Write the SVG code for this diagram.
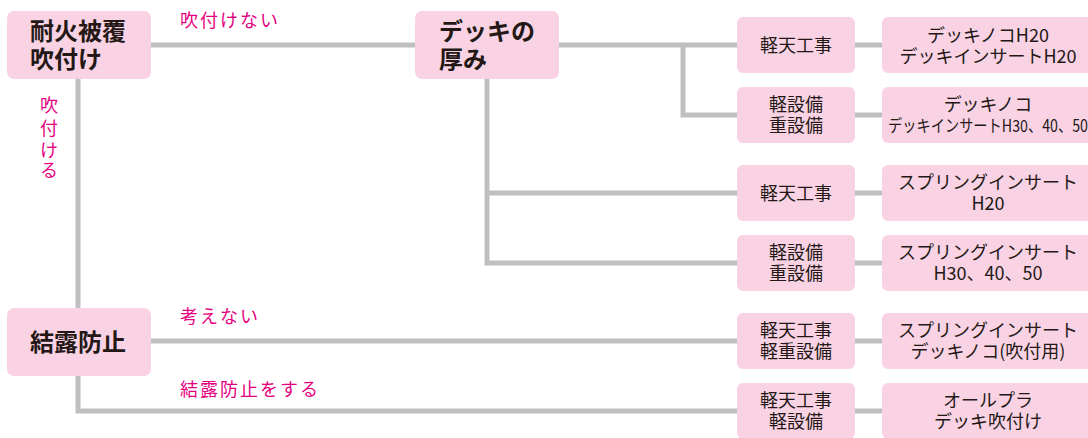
<svg xmlns="http://www.w3.org/2000/svg" width="1088" height="438" viewBox="0 0 1088 438">
<style>
.box{fill:#f9d3e4;}
.hd{font-family:"Noto Sans CJK JP",sans-serif;font-weight:bold;font-size:24px;fill:#231815;}
.tx{font-family:"Noto Sans CJK JP",sans-serif;font-size:18px;fill:#231815;text-anchor:middle;}
.lb{font-family:"Noto Sans CJK JP",sans-serif;font-size:18px;fill:#e4007f;letter-spacing:2px;}
.ln{fill:none;stroke:#bfbfbf;stroke-width:5;}
</style>
<g id="connectors">
<path class="ln" d="M150 45H415"/>
<path class="ln" d="M558 45H737"/>
<path class="ln" d="M683 45V115H737"/>
<path class="ln" d="M487 79V263H737"/>
<path class="ln" d="M487 193H737"/>
<path class="ln" d="M78 79V308"/>
<path class="ln" d="M78 376V411H737"/>
<path class="ln" d="M151 341H737"/>
<path class="ln" d="M855 45H882M855 115H882M855 193H882M855 263H882M855 341H882M855 411H882"/>
</g>
<g id="labels">
<text class="lb" x="180" y="27">吹付けない</text>
<text class="lb" x="180" y="323">考えない</text>
<text class="lb" x="180" y="396">結露防止をする</text>
<text class="lb" text-anchor="middle" style="letter-spacing:0"><tspan x="49" y="112">吹</tspan><tspan x="49" y="135">付</tspan><tspan x="49" y="157">け</tspan><tspan x="49" y="177">る</tspan></text>
</g>
<g id="n1"><rect class="box" x="7" y="11" width="144" height="68" rx="7"/><text class="hd" x="30" y="40">耐火被覆</text><text class="hd" x="30" y="68">吹付け</text></g>
<g id="n2"><rect class="box" x="415" y="11" width="144" height="68" rx="7"/><text class="hd" x="439" y="40">デッキの</text><text class="hd" x="439" y="68">厚み</text></g>
<g id="n3"><rect class="box" x="7" y="308" width="144" height="68" rx="7"/><text class="hd" x="30" y="351">結露防止</text></g>
<g id="m1"><rect class="box" x="737" y="17" width="118" height="56" rx="6"/><text class="tx" x="796" y="52">軽天工事</text></g>
<g id="m2"><rect class="box" x="737" y="87" width="118" height="56" rx="6"/><text class="tx" x="796" y="111">軽設備</text><text class="tx" x="796" y="132">重設備</text></g>
<g id="m3"><rect class="box" x="737" y="165" width="118" height="56" rx="6"/><text class="tx" x="796" y="200">軽天工事</text></g>
<g id="m4"><rect class="box" x="737" y="235" width="118" height="56" rx="6"/><text class="tx" x="796" y="259">軽設備</text><text class="tx" x="796" y="280">重設備</text></g>
<g id="m5"><rect class="box" x="737" y="313" width="118" height="56" rx="6"/><text class="tx" x="796" y="337">軽天工事</text><text class="tx" x="796" y="358">軽重設備</text></g>
<g id="m6"><rect class="box" x="737" y="383" width="118" height="56" rx="6"/><text class="tx" x="796" y="407">軽天工事</text><text class="tx" x="796" y="428">軽設備</text></g>
<g id="r1"><rect class="box" x="882" y="17" width="220" height="56" rx="6"/><text class="tx" x="988" y="42">デッキノコH20</text><text class="tx" x="988" y="63">デッキインサートH20</text></g>
<g id="r2"><rect class="box" x="882" y="87" width="220" height="56" rx="6"/><text class="tx" x="988" y="111">デッキノコ</text><text class="tx" x="888" y="132" style="text-anchor:start;font-size:17px" textLength="200" lengthAdjust="spacingAndGlyphs">デッキインサートH30、40、50</text></g>
<g id="r3"><rect class="box" x="882" y="165" width="220" height="56" rx="6"/><text class="tx" x="988" y="189">スプリングインサート</text><text class="tx" x="988" y="210">H20</text></g>
<g id="r4"><rect class="box" x="882" y="235" width="220" height="56" rx="6"/><text class="tx" x="988" y="259">スプリングインサート</text><text class="tx" x="988" y="280">H30、40、50</text></g>
<g id="r5"><rect class="box" x="882" y="313" width="220" height="56" rx="6"/><text class="tx" x="988" y="337">スプリングインサート</text><text class="tx" x="988" y="358">デッキノコ(吹付用)</text></g>
<g id="r6"><rect class="box" x="882" y="383" width="220" height="56" rx="6"/><text class="tx" x="988" y="407">オールプラ</text><text class="tx" x="988" y="428">デッキ吹付け</text></g>
</svg>
